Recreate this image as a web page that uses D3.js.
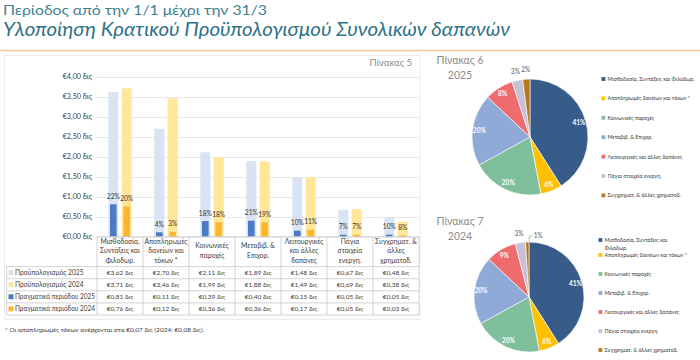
<!DOCTYPE html>
<html><head><meta charset="utf-8">
<script src="https://cdn.jsdelivr.net/npm/d3@7/dist/d3.min.js"></script>
<style>body{margin:0;background:#fff}svg{display:block}text{font-family:Lato,"Liberation Sans",sans-serif}</style>
</head><body>
<svg id="c" width="700" height="360"></svg>
<script>
// ---------- DATA ----------
const categories = ["Μισθοδοσία, Συντάξεις και Φιλοδωρ.","Αποπληρωμές δανείων και τόκων *","Κοινωνικές παροχές","Μεταβιβ. & Επιχορ.","Λειτουργικές και άλλες δαπάνες","Πάγια στοιχεία ενεργη.","Συγχρηματ. & άλλες χρηματοδ."];
const headerLines = [["Μισθοδοσία,","Συντάξεις και","Φιλοδωρ."],["Αποπληρωμές","δανείων και","τόκων *"],["Κοινωνικές","παροχές"],["Μεταβιβ. &","Επιχορ."],["Λειτουργικές","και άλλες","δαπάνες"],["Πάγια","στοιχεία","ενεργη."],["Συγχρηματ. &","άλλες","χρηματοδ."]];
const budget2025 = [3.62,2.70,2.11,1.89,1.48,0.67,0.48];
const budget2024 = [3.71,3.46,1.99,1.88,1.49,0.69,0.38];
const actual2025 = [0.81,0.11,0.39,0.40,0.15,0.05,0.05];
const actual2024 = [0.76,0.12,0.36,0.36,0.17,0.05,0.03];
const seriesNames = ["Προϋπολογισμός 2025","Προϋπολογισμός 2024","Πραγματικά περιόδου 2025","Πραγματικά περιόδου 2024"];
const yTicks = [0,0.5,1,1.5,2,2.5,3,3.5,4];
const pieCategories = ["Μισθοδοσία, Συντάξεις και Φιλοδωρ.","Αποπληρωμές δανείων και τόκων *","Κοινωνικές παροχές","Μεταβιβ. & Επιχορ.","Λειτουργικές και άλλες δαπάνες","Πάγια στοιχεία ενεργη.","Συγχρηματ. & άλλες χρηματοδ."];
const pie2025 = [41,6,20,20,8,3,2];
const pie2024 = [41,6,20,20,9,3,1];
const title1 = "Περίοδος από την 1/1 μέχρι την 31/3";
const title2 = "Υλοποίηση Κρατικού Προϋπολογισμού Συνολικών δαπανών";
const footnote = "* Οι αποπληρωμές τόκων ανέρχονται στα €0,07 δις (2024: €0,08 δις).";

// ---------- STYLE ----------
const seriesColors = ["#DAE3F3","#FFE699","#4A7BC4","#FDB52E"];
const pieColors = ["#385C8A","#FFC000","#7FBF9C","#8FAAD6","#EE6C6E","#C6C1D6","#B8781F"];
const txt = "#404040";
const svg = d3.select("#c");

function fit(sel, maxW){
  const n = sel.node(); const w = n.getComputedTextLength();
  if (w > maxW) sel.attr("textLength",maxW).attr("lengthAdjust","spacingAndGlyphs");
  return sel;
}

// Titles
svg.append("text").attr("x",3).attr("y",15).attr("font-size",14).attr("fill","#3F8191")
  .attr("textLength",264).attr("lengthAdjust","spacingAndGlyphs").text(title1);
svg.append("text").attr("x",3).attr("y",35.5).attr("font-size",19.5).attr("font-style","italic").attr("fill","#2F7285")
  .attr("textLength",507).attr("lengthAdjust","spacingAndGlyphs").text(title2);
svg.append("line").attr("x1",0).attr("x2",700).attr("y1",50.5).attr("y2",50.5).attr("stroke","#F3C796").attr("stroke-width",1.3);

// Chart frame
svg.append("rect").attr("x",4.5).attr("y",55.5).attr("width",415.5).attr("height",264).attr("fill","none").attr("stroke","#E6E6E6").attr("stroke-width",0.8);

svg.append("text").attr("x",412).attr("y",66).attr("text-anchor","end").attr("font-size",9.5).attr("fill","#8C8C8C").text("Πίνακας 5");

// Scales
const y = d3.scaleLinear().domain([0,4]).range([236.7,76.7]);
const x = d3.scaleBand().domain(categories).range([97,419]);
const xs = d3.scaleBand().domain(["2025","2024"]).range([11.3,34.7]).paddingInner(0.254);
const fmt = v => "€" + d3.format(".2f")(v).replace(".", ",") + " δις";

// Gridlines + y labels
const g = svg.append("g");
g.selectAll("line.grid").data(yTicks).join("line").attr("class","grid")
  .attr("x1",95).attr("x2",420).attr("y1",d=>Math.round(y(d))+0.5).attr("y2",d=>Math.round(y(d))+0.5)
  .attr("stroke","#E3E3E3").attr("stroke-width",0.8);
g.selectAll("text.yl").data(yTicks).join("text").attr("class","yl")
  .attr("x",92).attr("y",d=>y(d)+2.5).attr("text-anchor","end").attr("font-size",7.2).attr("fill",txt).text(fmt);

// Bars
const rows = categories.map((c,i)=>({c,b25:budget2025[i],b24:budget2024[i],a25:actual2025[i],a24:actual2024[i]}));
const bar = (key, sub, color, w) => svg.append("g").selectAll("rect").data(rows).join("rect")
  .attr("x",d=>x(d.c)+xs(sub)+(xs.bandwidth()-w)/2).attr("width",w)
  .attr("y",d=>y(d[key])).attr("height",d=>y(0)-y(d[key])).attr("fill",color);
bar("b25","2025",seriesColors[0],xs.bandwidth());
bar("b24","2024",seriesColors[1],xs.bandwidth());
bar("a25","2025",seriesColors[2],6.6);
bar("a24","2024",seriesColors[3],6.6);
const pl = (akey,bkey,sub) => svg.append("g").selectAll("text").data(rows).join("text")
  .attr("x",d=>x(d.c)+xs(sub)+xs.bandwidth()/2).attr("y",d=>y(d[akey])-5.5)
  .attr("text-anchor","middle").attr("font-size",6.6).attr("fill","#333")
  .text(d=>Math.round(d[akey]/d[bkey]*100)+"%");
pl("a25","b25","2025"); pl("a24","b24","2024");

// Table
const tTop = y(0), hBot = 266.6, rh = 12.1, tLeft = 6.7, tRight = x.range()[1];
const tBot = hBot + rh*4;
const tg = svg.append("g");
const lc = "#C8C8C8";
tg.append("line").attr("x1",x.range()[0]).attr("x2",tRight).attr("y1",tTop).attr("y2",tTop).attr("stroke",lc).attr("stroke-width",0.8);
d3.range(5).forEach(i=>tg.append("line").attr("x1",tLeft).attr("x2",tRight).attr("y1",hBot+i*rh).attr("y2",hBot+i*rh).attr("stroke",lc).attr("stroke-width",0.8));
d3.range(categories.length+1).forEach(i=>{
  const xx = x.range()[0] + i*x.step();
  tg.append("line").attr("x1",xx).attr("x2",xx).attr("y1",tTop).attr("y2",tBot).attr("stroke",lc).attr("stroke-width",0.8);
});
tg.append("line").attr("x1",tLeft).attr("x2",tLeft).attr("y1",hBot).attr("y2",tBot).attr("stroke",lc).attr("stroke-width",0.8);
categories.forEach((c,i)=>{
  const L = headerLines[i];
  const cy0 = L.length===3 ? 241.6 : 246;
  L.forEach((s,j)=>fit(tg.append("text").attr("x",x(c)+x.bandwidth()/2).attr("y",cy0+j*9.4+2.4)
    .attr("text-anchor","middle").attr("font-size",6.8).attr("fill",txt).text(s), 43));
});
const seriesVals = [budget2025,budget2024,actual2025,actual2024];
seriesNames.forEach((n,r)=>{
  const cy = hBot + rh*r + rh/2;
  tg.append("rect").attr("x",8.5).attr("y",cy-2.6).attr("width",5).attr("height",5).attr("fill",seriesColors[r]);
  fit(tg.append("text").attr("x",15).attr("y",cy+2.3).attr("font-size",6.7).attr("fill",txt).text(n), 80);
  seriesVals[r].forEach((v,i)=>tg.append("text").attr("x",x(categories[i])+x.bandwidth()/2).attr("y",cy+2.3)
    .attr("text-anchor","middle").attr("font-size",6.5).attr("fill",txt).text(fmt(v)));
});
fit(svg.append("text").attr("x",5).attr("y",331.5).attr("font-size",6.5).attr("fill",txt).text(footnote), 206);

// Pies
function drawPie(vals, cx, cy, r, title, year, ty, legY, legStep, legX, wrapFirst){
  const pg = svg.append("g").attr("transform",`translate(${cx},${cy})`);
  const arcs = d3.pie().sort(null).value(d=>d)(vals);
  const arc = d3.arc().innerRadius(0).outerRadius(r);
  pg.selectAll("path").data(arcs).join("path").attr("d",arc)
    .attr("fill",(d,i)=>pieColors[i]).attr("stroke","#fff").attr("stroke-width",0.6);
  arcs.forEach((a,i)=>{
    const m = (a.startAngle+a.endAngle)/2;
    const small = a.data < 5;
    const rr = small ? r+9 : r*0.88;
    let lx = Math.sin(m)*rr, ly = -Math.cos(m)*rr;
    if (small && a.data < 2) {
      const px = Math.sin(m)*r, py = -Math.cos(m)*r;
      lx = px + 11; ly = py - 6;
      pg.append("path").attr("d",`M${px+2},${py}L${px+2},${ly}L${px+5},${ly}`).attr("fill","none").attr("stroke","#8C8C8C").attr("stroke-width",0.6);
    }
    pg.append("text").attr("x",lx).attr("y",ly+2.3).attr("text-anchor","middle").attr("font-size",6.6)
      .attr("font-weight", small?"normal":"bold")
      .attr("fill", small ? "#595959" : "#fff").text(a.data+"%");
  });
  svg.append("text").attr("x",460).attr("y",ty).attr("text-anchor","middle").attr("font-size",10.5).attr("fill","#8C8C8C").text(title);
  svg.append("text").attr("x",460).attr("y",ty+15).attr("text-anchor","middle").attr("font-size",10.5).attr("fill","#8C8C8C").text(year);
  const maxW = 696 - (legX+6);
  const fs = 5.3;
  pieCategories.forEach((c,i)=>{
    const ly = i===0 ? legY : legY + (wrapFirst?15:0) + i*legStep - (wrapFirst?legStep:0);
    svg.append("rect").attr("x",legX).attr("y",ly-1.9).attr("width",3.8).attr("height",3.8).attr("fill",pieColors[i]);
    if (i===0 && wrapFirst) {
      fit(svg.append("text").attr("x",legX+6).attr("y",ly+2).attr("font-size",fs).attr("fill",txt).text("Μισθοδοσία, Συντάξεις και"), maxW);
      svg.append("text").attr("x",legX+6).attr("y",ly+9.7).attr("font-size",fs).attr("fill",txt).text("Φιλοδωρ.");
    } else {
      fit(svg.append("text").attr("x",legX+6).attr("y",ly+2).attr("font-size",fs).attr("fill",txt).text(c), maxW);
    }
  });
}
drawPie(pie2025, 530, 137, 58, "Πίνακας 6", "2025", 63.5, 79, 19.4, 601.5, false);
drawPie(pie2024, 529, 297, 55, "Πίνακας 7", "2024", 225, 240, 19, 598.5, true);
</script>
</body></html>
